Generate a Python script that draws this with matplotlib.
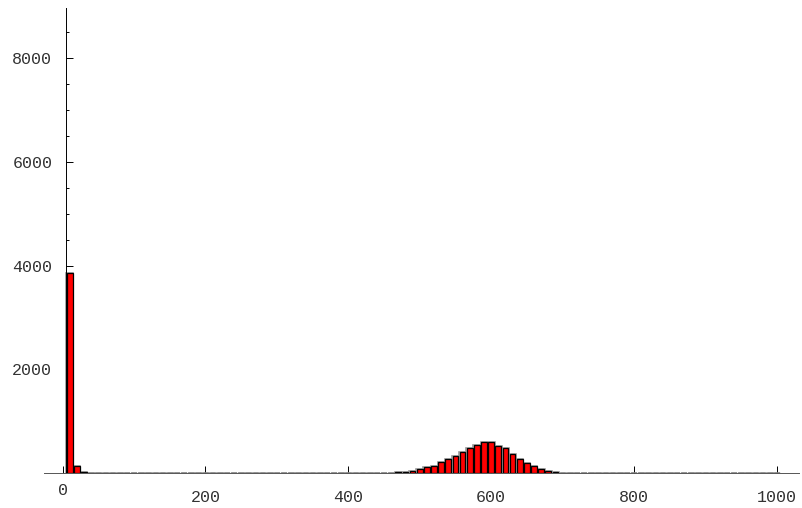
import numpy as np
import matplotlib
matplotlib.use("Agg")
import matplotlib.pyplot as plt

# histogram bins (width 10, centred on multiples of 10)
bin_edges = np.arange(5, 1006, 10)
counts = [
    3853, 141, 33, 4, 0, 0, 0, 0, 0, 0,          # 10 - 100
    0, 0, 0, 0, 0, 0, 0, 0, 0, 0,                # 110 - 200
    0, 0, 0, 0, 0, 0, 0, 0, 0, 0,                # 210 - 300
    0, 0, 0, 0, 0, 0, 0, 0, 0, 0,                # 310 - 400
    0, 0, 0, 0, 5, 10, 19, 32, 51, 83,           # 410 - 500
    116, 148, 212, 280, 328, 405, 482, 546, 597, 597,   # 510 - 600
    527, 482, 363, 283, 205, 141, 83, 45, 20, 5,  # 610 - 700
    0, 0, 0, 0, 0, 0, 0, 0, 0, 0,                # 710 - 800
    0, 0, 0, 0, 0, 0, 0, 0, 0, 0,                # 810 - 900
    0, 0, 0, 0, 0, 0, 0, 0, 0, 0,                # 910 - 1000
]
x_ticks = [200, 400, 600, 800, 1000]
y_ticks = [2000, 4000, 6000, 8000]
y_minor = [500, 1000, 1500, 2500, 3000, 3500, 4500, 5000, 5500,
           6500, 7000, 7500, 8500]

plt.rcParams['font.family'] = ['Liberation Mono', 'DejaVu Sans Mono']

W, H = 802, 508
fig = plt.figure(figsize=(W / 100, H / 100), dpi=100)
left_px, right_px, top_px, base_px = 44, 799, 8, 473.3
ax = fig.add_axes([left_px / W, (H - base_px) / H,
                   (right_px - left_px) / W, (base_px - top_px) / H])

centers = (bin_edges[:-1] + bin_edges[1:]) / 2
bw = np.diff(bin_edges) * 0.8
# soft grey halo behind each bar, as in the reference rendering
ax.bar(centers, counts, width=np.diff(bin_edges) * 0.95, color='none',
       edgecolor='#9a9a9a', linewidth=1.2, zorder=2)
ax.bar(centers, counts, width=bw, color='#ff0000',
       edgecolor='black', linewidth=0.9, zorder=3)

ax.set_xlim(-26, 1031)
ax.set_ylim(0, 8965)

for s in ['top', 'right']:
    ax.spines[s].set_visible(False)
ax.spines['left'].set_position(('data', 5))
ax.spines['left'].set_linewidth(0.7)
ax.spines['bottom'].set_linewidth(0.7)
ax.spines['bottom'].set_color('#555555')

txt_color = '#333333'
fs = 12

ax.set_xticks([0] + x_ticks)
ax.set_xticklabels([''] + [str(v) for v in x_ticks])
ax.tick_params(axis='x', direction='in', length=5, width=0.7, pad=12,
               labelsize=fs, labelcolor=txt_color)
ax.annotate('0', xy=(0, 0), xycoords='data', xytext=(0, -10),
            textcoords='offset pixels', ha='center', va='top',
            fontsize=fs, color=txt_color)

ax.set_yticks(y_ticks)
ax.set_yticklabels([str(v) for v in y_ticks])
ax.set_yticks(y_minor, minor=True)
ax.tick_params(axis='y', which='major', direction='in', length=5, width=0.7,
               pad=10, labelsize=fs, labelcolor=txt_color)
ax.tick_params(axis='y', which='minor', direction='in', length=2.5, width=0.7)

fig.savefig('out.png', dpi=100)
